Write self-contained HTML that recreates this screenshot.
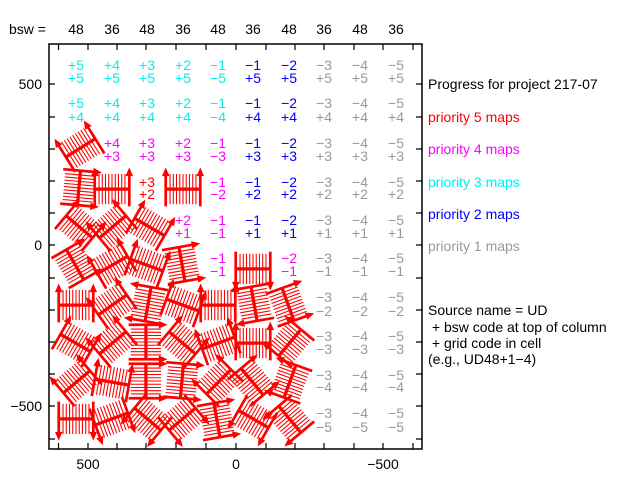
<!DOCTYPE html>
<html><head><meta charset="utf-8"><style>
html,body{margin:0;padding:0;background:#fff}
svg{display:block}
text{font-family:"Liberation Sans",sans-serif;font-size:14px}
</style></head><body>
<svg width="631" height="480" viewBox="0 0 631 480" xmlns="http://www.w3.org/2000/svg">
<defs>
<g id="s0" stroke="#f00" fill="none">
<g stroke-width="1">
<line x1="-12" y1="-13" x2="-12" y2="15"/><line x1="-9" y1="-13" x2="-9" y2="15"/><line x1="-6" y1="-13" x2="-6" y2="15"/><line x1="-3" y1="-13" x2="-3" y2="15"/><line x1="0" y1="-13" x2="0" y2="15"/><line x1="3" y1="-13" x2="3" y2="15"/><line x1="6" y1="-13" x2="6" y2="15"/><line x1="9" y1="-13" x2="9" y2="15"/><line x1="12" y1="-13" x2="12" y2="15"/>
</g>
<line x1="-16" y1="-14" x2="-16" y2="17" stroke-width="2.5"/>
<line x1="16" y1="-14" x2="16" y2="17" stroke-width="2.5"/>
<line x1="-16" y1="1" x2="16" y2="1" stroke-width="3"/>
<polygon points="-16,-19 -19.5,-11 -12.5,-11" fill="#f00" stroke="none"/>
<polygon points="16,-19 12.5,-11 19.5,-11" fill="#f00" stroke="none"/>
</g>
<g id="s"><use href="#s0" transform="scale(1.08)"/></g>
</defs>

<rect x="49" y="44" width="373" height="405" fill="none" stroke="#000" stroke-width="1.5"/>
<g stroke="#000" stroke-width="1.2">
<path d="M49 84h6M49 117h6M49 149h6M49 181h6M49 213h6M49 245h6M49 278h6M49 310h6M49 342h6M49 374h6M49 406h6M49 439h6"/>
<path d="M422 84h-6M422 117h-6M422 149h-6M422 181h-6M422 213h-6M422 245h-6M422 278h-6M422 310h-6M422 342h-6M422 374h-6M422 406h-6M422 439h-6"/>
<path d="M58.5 44v6M88 44v6M117 44v6M146 44v6M176 44v6M206 44v6M236 44v6M266 44v6M295 44v6M324 44v6M354 44v6M383 44v6M413 44v6"/>
<path d="M58.5 449v-6M88 449v-6M117 449v-6M146 449v-6M176 449v-6M206 449v-6M236 449v-6M266 449v-6M295 449v-6M324 449v-6M354 449v-6M383 449v-6M413 449v-6"/>
</g>

<g fill="#000" text-anchor="end">
<text x="42" y="89">500</text><text x="42" y="250">0</text><text x="42" y="411">−500</text>
</g>
<g fill="#000" text-anchor="middle">
<text x="88" y="469">500</text><text x="236" y="469">0</text><text x="383" y="469">−500</text>
</g>
<text x="9" y="34" fill="#000">bsw =</text>
<g fill="#000" text-anchor="middle">
<text x="76" y="34">48</text><text x="112" y="34">36</text><text x="147" y="34">48</text><text x="183" y="34">36</text><text x="218" y="34">48</text><text x="253" y="34">36</text><text x="289" y="34">48</text><text x="324" y="34">36</text><text x="360" y="34">48</text><text x="396" y="34">36</text>
</g>

<text x="428" y="89" fill="#000">Progress for project 217-07</text>
<text x="428" y="122" fill="#f00">priority 5 maps</text>
<text x="428" y="154" fill="#f0f">priority 4 maps</text>
<text x="428" y="187" fill="#0ee">priority 3 maps</text>
<text x="428" y="219" fill="#00f">priority 2 maps</text>
<text x="428" y="251" fill="#999">priority 1 maps</text>
<text x="428" y="315" fill="#000">Source name = UD</text>
<text x="428" y="332" fill="#000">&#160;+ bsw code at top of column</text>
<text x="428" y="348" fill="#000">&#160;+ grid code in cell</text>
<text x="428" y="364" fill="#000">(e.g., UD48+1−4)</text>

<g text-anchor="middle">
<g fill="#0ee"><text x="76" y="70">+5</text><text x="76" y="83">+5</text><text x="112" y="70">+4</text><text x="112" y="83">+5</text><text x="147" y="70">+3</text><text x="147" y="83">+5</text><text x="183" y="70">+2</text><text x="183" y="83">+5</text><text x="218" y="70">−1</text><text x="218" y="83">−5</text></g>
<g fill="#00f"><text x="253" y="70">−1</text><text x="253" y="83">+5</text><text x="289" y="70">−2</text><text x="289" y="83">+5</text></g>
<g fill="#999"><text x="324" y="70">−3</text><text x="324" y="83">+5</text><text x="360" y="70">−4</text><text x="360" y="83">+5</text><text x="396" y="70">−5</text><text x="396" y="83">+5</text></g>
<g fill="#0ee"><text x="76" y="108">+5</text><text x="76" y="122">+4</text><text x="112" y="108">+4</text><text x="112" y="122">+4</text><text x="147" y="108">+3</text><text x="147" y="122">+4</text><text x="183" y="108">+2</text><text x="183" y="122">+4</text><text x="218" y="108">−1</text><text x="218" y="122">−4</text></g>
<g fill="#00f"><text x="253" y="108">−1</text><text x="253" y="122">+4</text><text x="289" y="108">−2</text><text x="289" y="122">+4</text></g>
<g fill="#999"><text x="324" y="108">−3</text><text x="324" y="122">+4</text><text x="360" y="108">−4</text><text x="360" y="122">+4</text><text x="396" y="108">−5</text><text x="396" y="122">+4</text></g>
<g fill="#f0f"><text x="112" y="148">+4</text><text x="112" y="161">+3</text><text x="147" y="148">+3</text><text x="147" y="161">+3</text><text x="183" y="148">+2</text><text x="183" y="161">+3</text><text x="218" y="148">−1</text><text x="218" y="161">−3</text></g>
<g fill="#00f"><text x="253" y="148">−1</text><text x="253" y="161">+3</text><text x="289" y="148">−2</text><text x="289" y="161">+3</text></g>
<g fill="#999"><text x="324" y="148">−3</text><text x="324" y="161">+3</text><text x="360" y="148">−4</text><text x="360" y="161">+3</text><text x="396" y="148">−5</text><text x="396" y="161">+3</text></g>
<g fill="#f00"><text x="147" y="187">+3</text><text x="147" y="199">+2</text></g>
<g fill="#f0f"><text x="218" y="187">−1</text><text x="218" y="199">−2</text></g>
<g fill="#00f"><text x="253" y="187">−1</text><text x="253" y="199">+2</text><text x="289" y="187">−2</text><text x="289" y="199">+2</text></g>
<g fill="#999"><text x="324" y="187">−3</text><text x="324" y="199">+2</text><text x="360" y="187">−4</text><text x="360" y="199">+2</text><text x="396" y="187">−5</text><text x="396" y="199">+2</text></g>
<g fill="#f0f"><text x="183" y="225">+2</text><text x="183" y="238">+1</text><text x="218" y="225">−1</text><text x="218" y="238">−1</text></g>
<g fill="#00f"><text x="253" y="225">−1</text><text x="253" y="238">+1</text><text x="289" y="225">−2</text><text x="289" y="238">+1</text></g>
<g fill="#999"><text x="324" y="225">−3</text><text x="324" y="238">+1</text><text x="360" y="225">−4</text><text x="360" y="238">+1</text><text x="396" y="225">−5</text><text x="396" y="238">+1</text></g>
<g fill="#f0f"><text x="218" y="263">−1</text><text x="218" y="276">−1</text><text x="289" y="263">−2</text><text x="289" y="276">−1</text></g>
<g fill="#999"><text x="324" y="263">−3</text><text x="324" y="276">−1</text><text x="360" y="263">−4</text><text x="360" y="276">−1</text><text x="396" y="263">−5</text><text x="396" y="276">−1</text></g>
<g fill="#999">
<text x="324" y="302">−3</text><text x="324" y="316">−2</text><text x="360" y="302">−4</text><text x="360" y="316">−2</text><text x="396" y="302">−5</text><text x="396" y="316">−2</text>
<text x="324" y="341">−3</text><text x="324" y="354">−3</text><text x="360" y="341">−4</text><text x="360" y="354">−3</text><text x="396" y="341">−5</text><text x="396" y="354">−3</text>
<text x="324" y="380">−3</text><text x="324" y="392">−4</text><text x="360" y="380">−4</text><text x="360" y="392">−4</text><text x="396" y="380">−5</text><text x="396" y="392">−4</text>
<text x="324" y="418">−3</text><text x="324" y="432">−5</text><text x="360" y="418">−4</text><text x="360" y="432">−5</text><text x="396" y="418">−5</text><text x="396" y="432">−5</text>
</g>
</g>

<use href="#s" transform="translate(80,147) rotate(-32)"/>
<use href="#s" transform="translate(80,188) rotate(95)"/>
<use href="#s" transform="translate(112,188)"/>
<use href="#s" transform="translate(183,188)"/>
<use href="#s" transform="translate(80,226) rotate(40)"/>
<use href="#s" transform="translate(112,226) rotate(-40)"/>
<use href="#s" transform="translate(150,226) rotate(30)"/>
<use href="#s" transform="translate(76,264) rotate(60)"/>
<use href="#s" transform="translate(112,264) rotate(-30)"/>
<use href="#s" transform="translate(147,264) rotate(20)"/>
<use href="#s" transform="translate(183,264) rotate(80)"/>
<use href="#s" transform="translate(253,270) rotate(180)"/>
<use href="#s" transform="translate(76,304)"/>
<use href="#s" transform="translate(112,304) rotate(-35)"/>
<use href="#s" transform="translate(147,304) rotate(-80)"/>
<use href="#s" transform="translate(183,304) rotate(20)"/>
<use href="#s" transform="translate(218,304)"/>
<use href="#s" transform="translate(253,304) rotate(-100)"/>
<use href="#s" transform="translate(289,304) rotate(70)"/>
<use href="#s" transform="translate(76,342) rotate(30)"/>
<use href="#s" transform="translate(112,342) rotate(-40)"/>
<use href="#s" transform="translate(147,342) rotate(90)"/>
<use href="#s" transform="translate(183,342) rotate(40)"/>
<use href="#s" transform="translate(218,342) rotate(-20)"/>
<use href="#s" transform="translate(253,342)"/>
<use href="#s" transform="translate(289,342) rotate(-50)"/>
<use href="#s" transform="translate(76,381) rotate(-40)"/>
<use href="#s" transform="translate(112,381) rotate(10)"/>
<use href="#s" transform="translate(147,381) rotate(90)"/>
<use href="#s" transform="translate(183,381) rotate(95)"/>
<use href="#s" transform="translate(218,381) rotate(-45)"/>
<use href="#s" transform="translate(253,381) rotate(50)"/>
<use href="#s" transform="translate(289,381) rotate(-70)"/>
<use href="#s" transform="translate(76,420) rotate(180)"/>
<use href="#s" transform="translate(112,420) rotate(160)"/>
<use href="#s" transform="translate(147,420) rotate(-140)"/>
<use href="#s" transform="translate(183,420) rotate(140)"/>
<use href="#s" transform="translate(218,420) rotate(80)"/>
<use href="#s" transform="translate(253,420) rotate(-150)"/>
<use href="#s" transform="translate(289,420) rotate(-130)"/>
</svg>
</body></html>
